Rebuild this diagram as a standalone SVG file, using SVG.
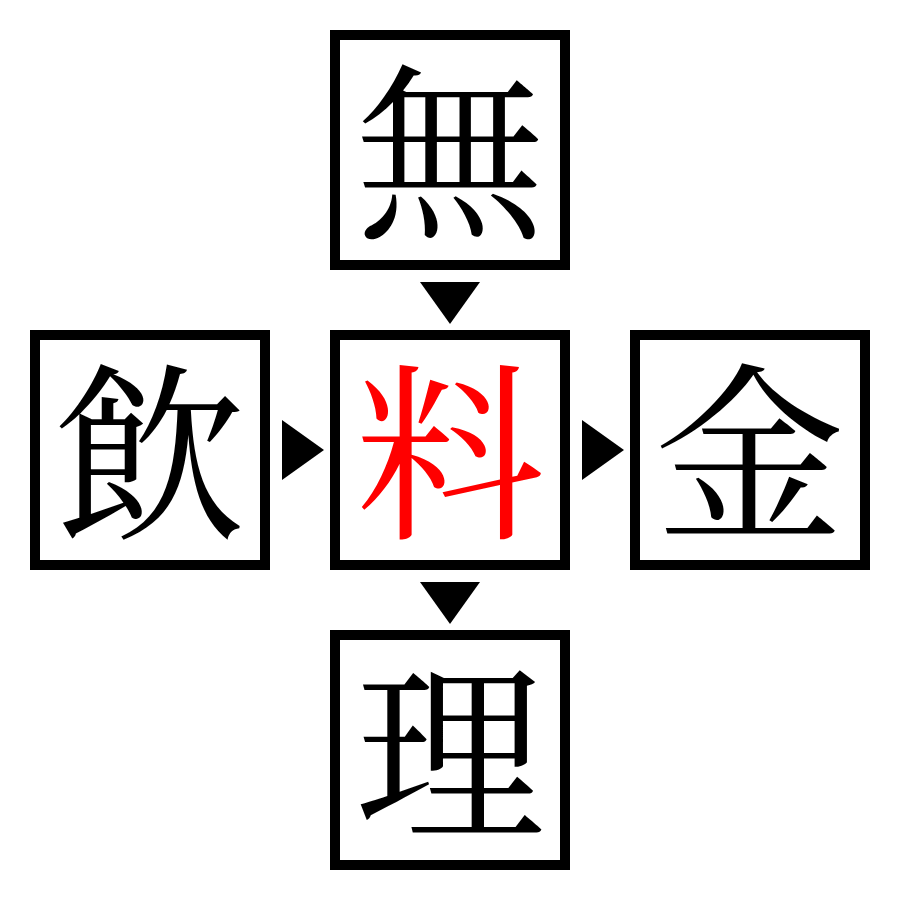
<svg xmlns="http://www.w3.org/2000/svg" width="900" height="900" viewBox="0 0 900 900">
<style>
.box{fill:#fff;stroke:#000;stroke-width:10}
.ch{font-family:"Noto Serif CJK JP","Noto Sans CJK JP",serif;font-size:190px;text-anchor:middle;dominant-baseline:central;fill:#000}
.hl{fill:#ff0000}
.arr{fill:#000}
</style>
<rect width="900" height="900" fill="#fff"/>
<g id="connectors">
<polygon class="arr" points="420,282 480,282 450,324"/>
<polygon class="arr" points="282,420 282,480 324,450"/>
<polygon class="arr" points="582,420 582,480 624,450"/>
<polygon class="arr" points="420,582 480,582 450,624"/>
</g>
<g id="node-top"><rect class="box" x="335" y="35" width="230" height="230"/><text class="ch" x="450" y="141">無</text></g>
<g id="node-left"><rect class="box" x="35" y="335" width="230" height="230"/><text class="ch" x="150" y="441">飲</text></g>
<g id="node-center"><rect class="box" x="335" y="335" width="230" height="230"/><text class="ch hl" x="450" y="441">料</text></g>
<g id="node-right"><rect class="box" x="635" y="335" width="230" height="230"/><text class="ch" x="750" y="441">金</text></g>
<g id="node-bottom"><rect class="box" x="335" y="635" width="230" height="230"/><text class="ch" x="450" y="741">理</text></g>
</svg>
